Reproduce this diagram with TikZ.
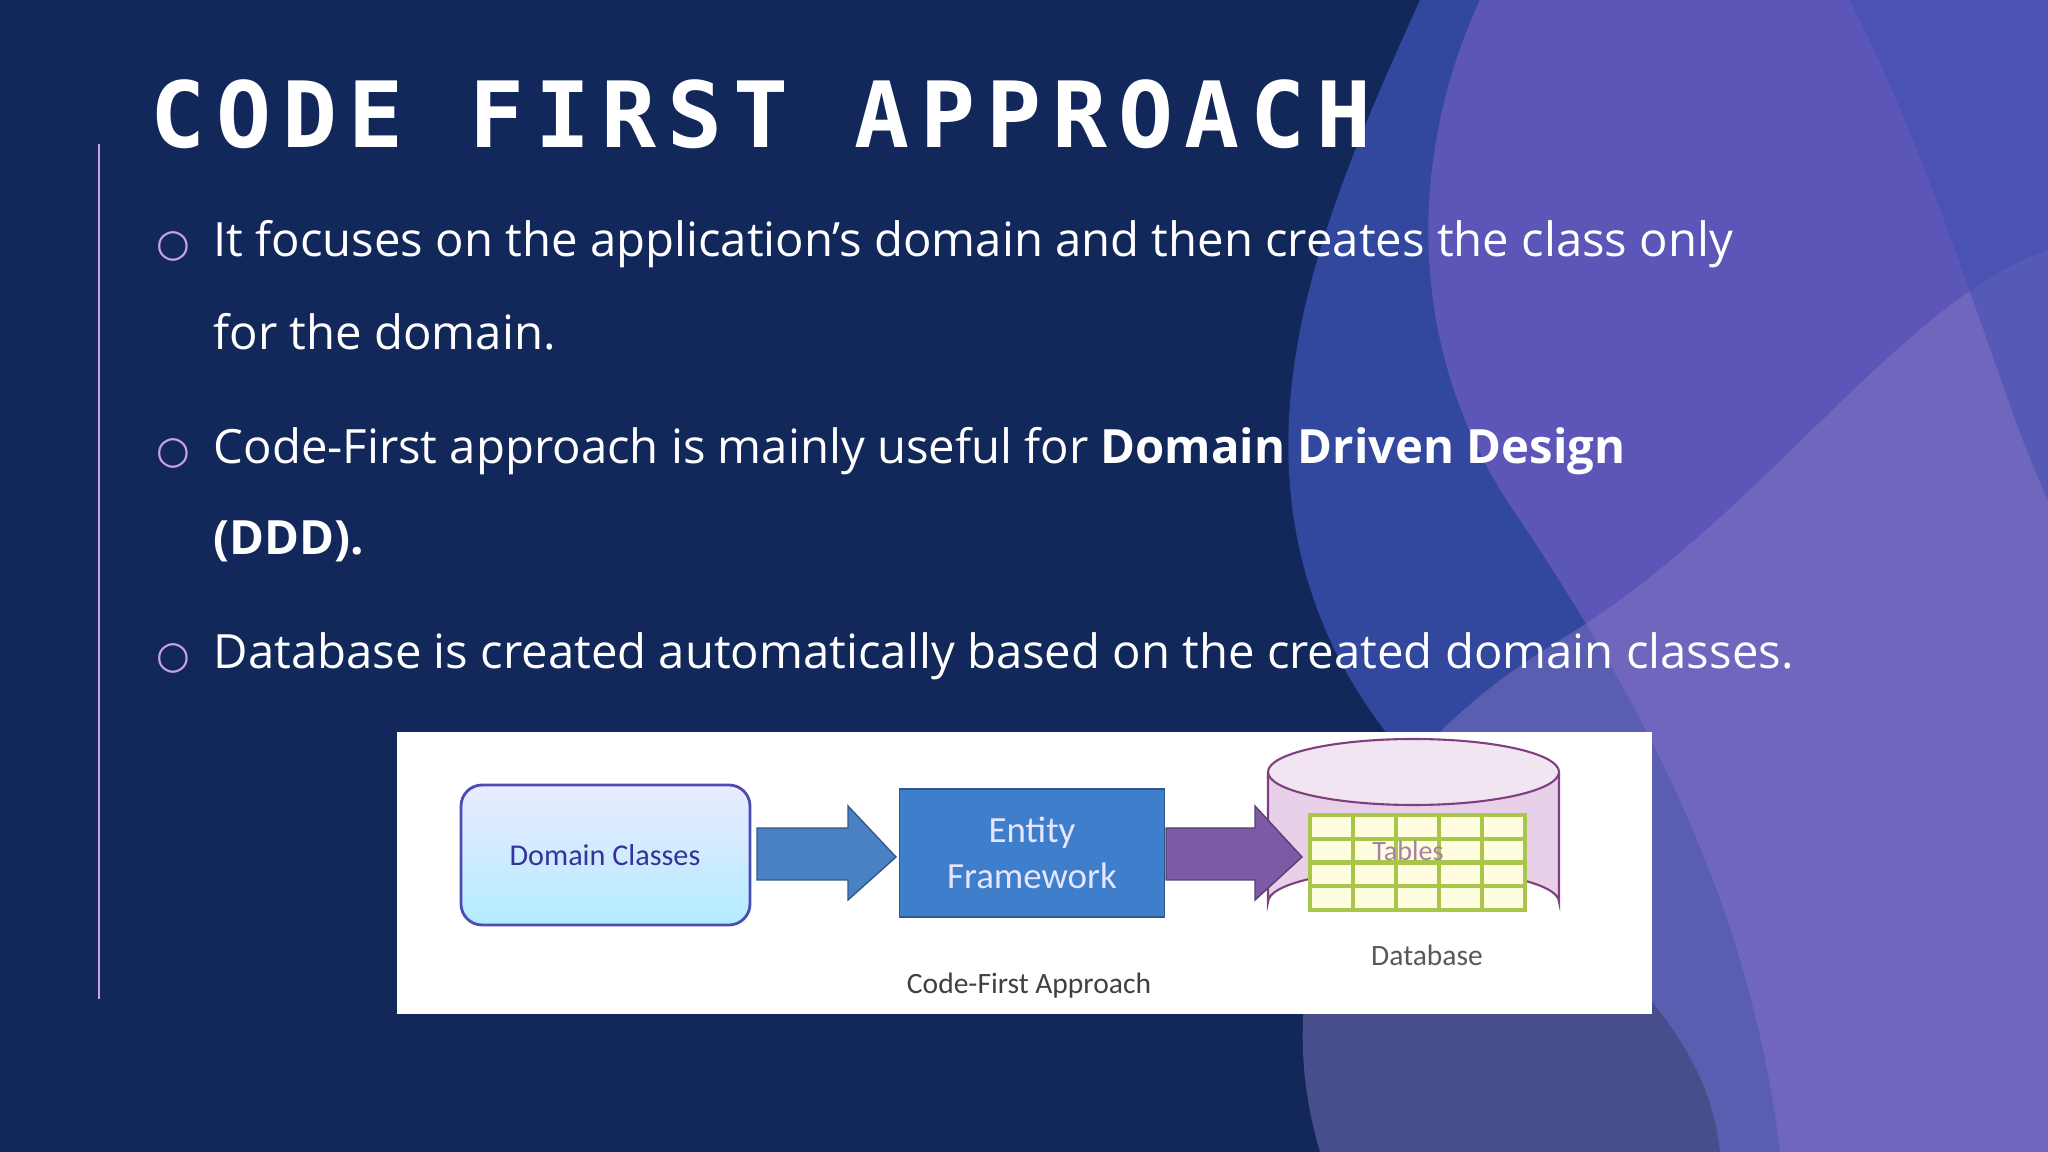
\documentclass[tikz,border=0pt]{standalone}
\usepackage{fontspec}
\setmainfont{Open Sans}
\newfontfamily\titlefont[LetterSpace=12]{DejaVu Sans Mono}
\newfontfamily\calfont{Carlito}
\newfontfamily\dvfont{DejaVu Sans}
\usetikzlibrary{shapes.geometric}
\definecolor{bg}{HTML}{13285A}
\definecolor{wave1}{HTML}{3A4FB0}
\definecolor{wave2}{HTML}{6A5CC0}
\definecolor{wave3}{HTML}{8A7BC8}
\definecolor{bul}{HTML}{C9A2E8}
\definecolor{efblue}{HTML}{3F7ECB}
\definecolor{arblue}{HTML}{4A80C4}
\definecolor{arpurp}{HTML}{7E5AA6}
\definecolor{grid}{HTML}{A8C74A}
\tikzset{body/.style={anchor=base west,text=white,font=\fontsize{13.45}{16}\selectfont,inner sep=0},
bullet/.style={anchor=base west,text=bul,font=\dvfont\fontsize{11}{14}\selectfont,inner sep=0}}
\begin{document}
\begin{tikzpicture}[x=0.1mm,y=-0.1mm]
\useasboundingbox (0,0) rectangle (2048,1152);
\fill[bg] (0,0) rectangle (2048,1152);
% waves
\fill[wave1,opacity=0.8] (1420,0) .. controls (1330,200) and (1230,420) .. (1330,640) .. controls (1430,860) and (1700,950) .. (1720,1152) -- (2048,1152) -- (2048,0) -- cycle;
\fill[wave2,opacity=0.75] (1480,0) .. controls (1410,150) and (1400,350) .. (1520,520) .. controls (1640,700) and (1750,900) .. (1780,1152) -- (2048,1152) -- (2048,0) -- cycle;
\fill[wave3,opacity=0.45] (1320,1152) .. controls (1260,950) and (1360,760) .. (1560,640) .. controls (1760,520) and (1900,300) .. (2048,250) -- (2048,1152) -- cycle;
\fill[wave1,opacity=0.5] (1850,0) .. controls (1950,200) and (2000,400) .. (2048,500) -- (2048,0) -- cycle;
% left line
\draw[bul,line width=0.6pt] (99,144) -- (99,999);
% title
\node[anchor=base west,inner sep=0,text=white,font=\titlefont\bfseries\fontsize{26}{30}\selectfont] (title) at (150,148) {CODE FIRST APPROACH};
% bullets
\node[bullet] (b1) at (156,257) {○};
\node[body] (t1) at (213,257) {It focuses on the application’s domain and then creates the class only};
\node[body] (t1b) at (213,350) {for the domain.};
\node[bullet] (b2) at (156,464) {○};
\node[body] (t2) at (213,464) {Code-First approach is mainly useful for \textbf{Domain Driven Design}};
\node[body] (t2b) at (213,555) {\textbf{(DDD).}};
\node[bullet] (b3) at (156,669) {○};
\node[body] (t3) at (213,669) {Database is created automatically based on the created domain classes.};
% diagram panel
\node[fill=white,draw=none,minimum width=125.5mm,minimum height=28.2mm,inner sep=0,anchor=north west] (panel) at (396,731) {};
\shade[top color=blue!8,bottom color=blue!25!cyan!30,draw=gray!60!blue,line width=0.8pt,rounded corners=6pt] (461,785) rectangle (750,925);
\node[text=blue!50!black!80,font=\calfont\fontsize{8.6}{10}\selectfont] (dc) at (605,855) {Domain Classes};
% arrow 1
\fill[arblue,draw=arblue!70!black] (757,828) -- (848,828) -- (848,806) -- (896,857) -- (848,900) -- (848,880) -- (757,880) -- cycle;
% EF
\node[fill=efblue,draw=efblue!70!black,minimum width=26.5mm,minimum height=12.8mm,inner sep=0,text=white!90!blue,align=center,font=\calfont\fontsize{10.5}{13}\selectfont] (ef) at (1032,853) {Entity\\Framework};
% cylinder
\fill[violet!18,draw=violet!50!gray,line width=0.6pt] (1268,772) -- (1268,902) arc[start angle=180,end angle=360,x radius=145.5,y radius=33] -- (1559,772);
\draw[fill=violet!10,draw=violet!50!gray,line width=0.6pt] (1413.5,772) ellipse[x radius=145.5,y radius=33];
\fill[yellow!12] (1310,815) rectangle (1525,910);
\foreach \xx in {1353,1396,1439,1482} \draw[grid,line width=1.2pt] (\xx,815) -- (\xx,910);
\foreach \yy in {838.75,862.5,886.25} \draw[grid,line width=1.2pt] (1310,\yy) -- (1525,\yy);
\draw[grid,line width=1.4pt] (1310,815) rectangle (1525,910);
\node[text=violet!40!gray!70,font=\calfont\fontsize{8}{10}\selectfont] (tab) at (1408,851) {Tables};
% arrow 2
\fill[arpurp,draw=arpurp!70!black] (1166,828) -- (1255,828) -- (1255,806) -- (1302,857) -- (1255,900) -- (1255,880) -- (1166,880) -- cycle;
\node[text=gray!70!black,font=\calfont\fontsize{8.4}{10}\selectfont] (db) at (1427,955) {Database};
\node[text=black!75,font=\calfont\fontsize{8.4}{10}\selectfont] (cap) at (1029,986) {Code-First Approach};
\end{tikzpicture}
\end{document}
